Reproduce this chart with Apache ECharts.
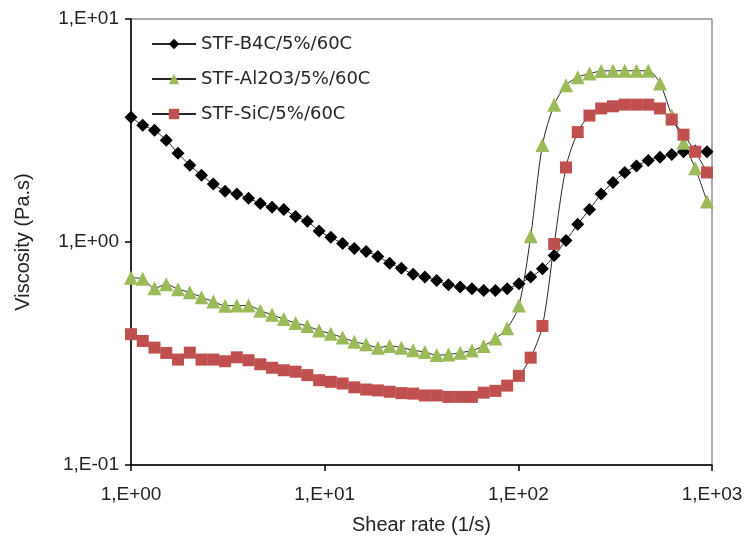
<!DOCTYPE html>
<html>
<head>
<meta charset="utf-8">
<script src="https://cdn.jsdelivr.net/npm/echarts@6/dist/echarts.min.js"></script>
<style>html,body{margin:0;padding:0;background:#fff}#c{width:749px;height:540px}</style>
</head>
<body>
<div id="c"></div>
<script>
const shearRate = [1.00,1.150,1.322,1.521,1.749,2.012,2.313,2.660,3.060,3.518,4.046,4.653,5.351,6.154,7.077,8.139,9.359,10.76,12.38,14.23,16.37,18.83,21.65,24.90,28.63,32.93,37.87,43.55,50.08,57.60,66.22,76.16,87.59,100.7,115.8,133.2,153.2,176.2,202.6,233.0,267.9,308.1,354.3,407.5,468.6,538.9,619.7,712.7,819.6,942.6];
const b4c = [3.63,3.34,3.17,2.86,2.50,2.21,1.99,1.82,1.69,1.64,1.57,1.49,1.43,1.40,1.30,1.24,1.12,1.05,0.985,0.935,0.907,0.862,0.803,0.763,0.716,0.696,0.672,0.643,0.628,0.617,0.606,0.606,0.617,0.650,0.696,0.758,0.869,1.016,1.20,1.40,1.64,1.85,2.05,2.19,2.32,2.40,2.47,2.54,2.56,2.54];
const al2o3 = [0.691,0.684,0.620,0.646,0.614,0.595,0.565,0.541,0.518,0.519,0.519,0.492,0.472,0.451,0.433,0.420,0.401,0.388,0.373,0.357,0.348,0.336,0.342,0.336,0.327,0.321,0.311,0.313,0.319,0.326,0.342,0.369,0.410,0.519,1.06,2.72,4.13,5.05,5.48,5.69,5.84,5.86,5.86,5.86,5.86,5.14,3.69,2.79,2.14,1.52];
const sic = [0.386,0.360,0.336,0.318,0.297,0.319,0.297,0.297,0.292,0.304,0.295,0.283,0.273,0.266,0.262,0.253,0.240,0.236,0.232,0.223,0.218,0.216,0.213,0.210,0.209,0.205,0.205,0.202,0.202,0.202,0.211,0.215,0.227,0.251,0.303,0.420,0.980,2.16,3.11,3.69,3.97,4.06,4.13,4.13,4.13,3.97,3.54,3.03,2.54,2.05];
const seriesNames = ['STF-B4C/5%/60C','STF-Al2O3/5%/60C','STF-SiC/5%/60C'];
const xTitle = 'Shear rate (1/s)';
const yTitle = 'Viscosity (Pa.s)';

function sci(v){
  const e = Math.round(Math.log10(v));
  return '1,E' + (e < 0 ? '-' : '+') + String(Math.abs(e)).padStart(2,'0');
}
function pairs(ys){ return shearRate.map((x,i)=>[x, ys[i]]); }

const chart = echarts.init(document.getElementById('c'), null, {renderer:'canvas'});
const lineStyle = {color:'#262626', width:1};
chart.setOption({
  animation:false,
  backgroundColor:'#fff',
  textStyle:{fontFamily:'Liberation Sans'},
  grid:{left:131, right:37, top:19, bottom:73, show:true, borderColor:'#595959', borderWidth:1, backgroundColor:'transparent'},
  legend:{
    orient:'vertical', left:146, top:30, itemWidth:44, itemHeight:13, itemGap:17,
    textStyle:{fontFamily:'DejaVu Sans', fontSize:18, color:'#262626'},
    data:seriesNames
  },
  xAxis:{
    type:'log', logBase:10, min:1, max:1000,
    axisLine:{show:true, lineStyle:{color:'#000', width:1.5}},
    axisTick:{show:true, inside:false, length:6, lineStyle:{color:'#000', width:1.5}},
    minorTick:{show:false}, splitLine:{show:false},
    axisLabel:{fontSize:19, color:'#222', margin:20, formatter:sci, fontFamily:'Liberation Sans'},
    name:xTitle, nameLocation:'middle', nameGap:50,
    nameTextStyle:{fontSize:20, color:'#222', fontFamily:'Liberation Sans'}
  },
  yAxis:{
    type:'log', logBase:10, min:0.1, max:10,
    axisLine:{show:true, lineStyle:{color:'#000', width:1.5}},
    axisTick:{show:true, inside:false, length:6, lineStyle:{color:'#000', width:1.5}},
    minorTick:{show:false}, splitLine:{show:false},
    axisLabel:{fontSize:19, color:'#222', margin:12, formatter:sci, fontFamily:'Liberation Sans'},
    name:yTitle, nameLocation:'middle', nameGap:98, nameRotate:90,
    nameTextStyle:{fontSize:20, color:'#222', fontFamily:'Liberation Sans'}
  },
  series:[
    {name:seriesNames[0], type:'line', data:pairs(b4c), smooth:0.3, symbol:'diamond', symbolSize:13,
     itemStyle:{color:'#000'}, lineStyle:lineStyle},
    {name:seriesNames[1], type:'line', data:pairs(al2o3), smooth:0.3, symbol:'triangle', symbolSize:14,
     itemStyle:{color:'#9BBB59'}, lineStyle:lineStyle},
    {name:seriesNames[2], type:'line', data:pairs(sic), smooth:0.3, symbol:'rect', symbolSize:12,
     itemStyle:{color:'#C0504D'}, lineStyle:lineStyle}
  ]
});
</script>
</body>
</html>
